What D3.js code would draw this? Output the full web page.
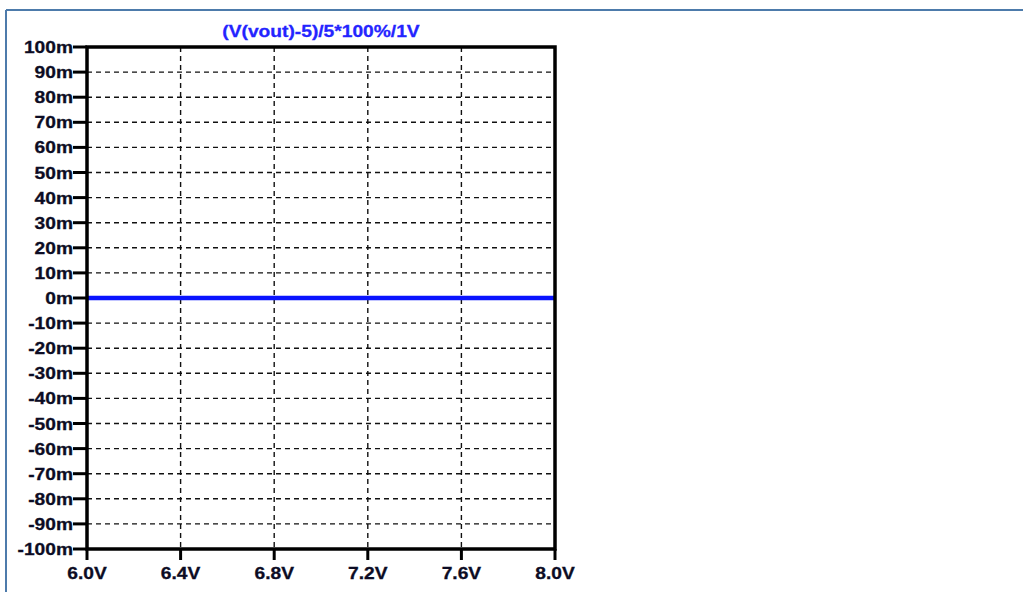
<!DOCTYPE html>
<html><head><meta charset="utf-8">
<script src="https://cdn.jsdelivr.net/npm/d3@7"></script>
<style>html,body{margin:0;padding:0;background:#fff;overflow:hidden}</style>
</head><body>
<svg id="c" width="1023" height="592"></svg>
<script>
const title = "(V(vout)-5)/5*100%/1V";
const xTicks = [6.0, 6.4, 6.8, 7.2, 7.6, 8.0];
const xTickLabels = ["6.0V", "6.4V", "6.8V", "7.2V", "7.6V", "8.0V"];
const yTicks = [100, 90, 80, 70, 60, 50, 40, 30, 20, 10, 0, -10, -20, -30, -40, -50, -60, -70, -80, -90, -100];
const seriesX = [6.0, 8.0];
const seriesY = [0, 0]; // in m (milli) units

const svg = d3.select("#c");
const L = 87, R = 555, T = 47, B = 549;
const x = d3.scaleLinear().domain([6, 8]).range([L, R]);
const y = d3.scaleLinear().domain([-100, 100]).range([B, T]);
const FS = 17, SX = 1.13;

// outer frame
svg.append("line").attr("x1", 6).attr("x2", 1023).attr("y1", 10).attr("y2", 10)
  .attr("stroke", "#4d7bab").attr("stroke-width", 2);
svg.append("line").attr("x1", 6).attr("x2", 6).attr("y1", 10).attr("y2", 592)
  .attr("stroke", "#4d7bab").attr("stroke-width", 2);

// grid
const g = svg.append("g");
g.selectAll(".hg").data(yTicks.filter(v => v !== 100 && v !== -100)).join("line")
  .attr("x1", L).attr("x2", R).attr("y1", d => y(d)).attr("y2", d => y(d))
  .attr("stroke", "#111").attr("stroke-width", 1.4).attr("stroke-dasharray", "5,4");
g.selectAll(".vg").data(xTicks.filter(v => v !== 6 && v !== 8)).join("line")
  .attr("x1", d => x(d)).attr("x2", d => x(d)).attr("y1", T).attr("y2", B)
  .attr("stroke", "#111").attr("stroke-width", 1.4).attr("stroke-dasharray", "5,4");

// series
const line = d3.line().x((d, i) => x(seriesX[i])).y(d => y(d));
svg.append("path").datum(seriesY).attr("d", line)
  .attr("fill", "none").attr("stroke", "#0a14ff").attr("stroke-width", 4.5);

// ticks
svg.selectAll(".yt").data(yTicks).join("line")
  .attr("x1", 73).attr("x2", L).attr("y1", d => y(d)).attr("y2", d => y(d))
  .attr("stroke", "#000").attr("stroke-width", 3);
svg.selectAll(".xt").data(xTicks).join("line")
  .attr("x1", d => x(d)).attr("x2", d => x(d)).attr("y1", B).attr("y2", 560)
  .attr("stroke", "#000").attr("stroke-width", 3);

// frame
svg.append("rect").attr("x", L).attr("y", T).attr("width", R - L).attr("height", B - T)
  .attr("fill", "none").attr("stroke", "#000").attr("stroke-width", 3.5);

// labels
const font = "'Liberation Sans', Arial, sans-serif";
svg.selectAll(".yl").data(yTicks).join("text")
  .attr("transform", d => `translate(73,${y(d) + 6}) scale(${SX},1)`)
  .attr("text-anchor", "end").attr("font-family", font).attr("font-weight", "bold")
  .attr("font-size", FS).attr("fill", "#0c0c24").attr("stroke", "#0c0c24").attr("stroke-width", 0.3)
  .text(d => d + "m");
svg.selectAll(".xl").data(xTicks).join("text")
  .attr("transform", d => `translate(${x(d)},579) scale(${SX},1)`)
  .attr("text-anchor", "middle").attr("font-family", font).attr("font-weight", "bold")
  .attr("font-size", FS).attr("fill", "#0c0c24").attr("stroke", "#0c0c24").attr("stroke-width", 0.3)
  .text((d, i) => xTickLabels[i]);
svg.append("text")
  .attr("transform", `translate(${(L + R) / 2},37) scale(${SX},1)`)
  .attr("text-anchor", "middle").attr("font-family", font).attr("font-weight", "bold")
  .attr("font-size", FS).attr("fill", "#2424ff").attr("stroke", "#2424ff").attr("stroke-width", 0.3)
  .text(title);
</script>
</body></html>
